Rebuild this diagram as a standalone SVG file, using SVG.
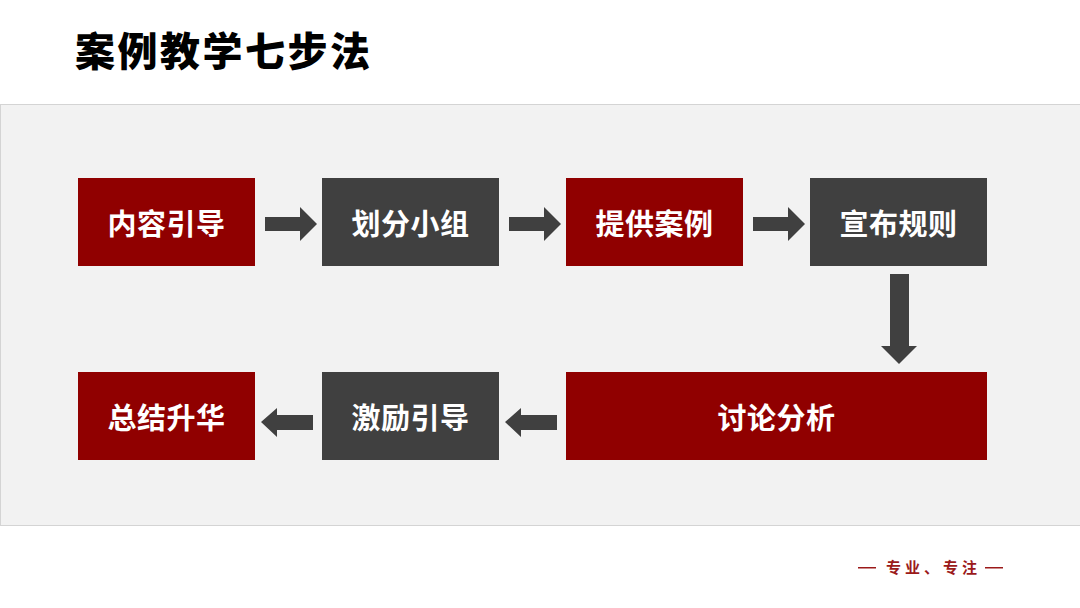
<svg xmlns="http://www.w3.org/2000/svg" width="1080" height="608" viewBox="0 0 1080 608">
<style>
.red{fill:#900000;}
.gray{fill:#404040;}
.lbl{font-family:"Noto Sans CJK SC","Noto Sans",sans-serif;font-weight:700;font-size:29px;fill:#ffffff;text-anchor:middle;dominant-baseline:central;letter-spacing:0.5px;}
.arr{fill:#404040;}
</style>
<rect width="1080" height="608" fill="#ffffff"/>
<text x="75" y="66" font-family="'Noto Sans CJK SC','Noto Sans',sans-serif" font-weight="900" font-size="40" letter-spacing="2.5" fill="#000000">案例教学七步法</text>
<rect x="0.5" y="104.5" width="1080" height="421" fill="#f2f2f2" stroke="#d4d4d4" stroke-width="1"/>
<g id="n1"><rect class="red" x="78" y="178" width="177" height="88"/><text class="lbl" x="166.5" y="222">内容引导</text></g>
<g id="n2"><rect class="gray" x="322" y="178" width="177" height="88"/><text class="lbl" x="410.5" y="222">划分小组</text></g>
<g id="n3"><rect class="red" x="566" y="178" width="177" height="88"/><text class="lbl" x="654.5" y="222">提供案例</text></g>
<g id="n4"><rect class="gray" x="810" y="178" width="177" height="88"/><text class="lbl" x="898.5" y="222">宣布规则</text></g>
<g id="n5"><rect class="red" x="566" y="372" width="421" height="88"/><text class="lbl" x="776.5" y="416">讨论分析</text></g>
<g id="n6"><rect class="gray" x="322" y="372" width="177" height="88"/><text class="lbl" x="410.5" y="416">激励引导</text></g>
<g id="n7"><rect class="red" x="78" y="372" width="177" height="88"/><text class="lbl" x="166.5" y="416">总结升华</text></g>
<g id="connectors">
<polygon class="arr" points="265,217 300,217 300,207 317,224 300,241 300,231 265,231"/>
<polygon class="arr" points="509,217 544,217 544,207 561,224 544,241 544,231 509,231"/>
<polygon class="arr" points="753,217 788,217 788,207 805,224 788,241 788,231 753,231"/>
<polygon class="arr" points="890,274 909,274 909,346 917,346 899,364 881,346 890,346"/>
<polygon class="arr" points="557,415 521,415 521,408 505,422 521,437 521,430 557,430"/>
<polygon class="arr" points="313,415 277,415 277,408 261,422 277,437 277,430 313,430"/>
</g>
<g id="footer" fill="#9b1a1a" font-family="'Noto Sans CJK SC',sans-serif" font-size="15" font-weight="700">
<rect x="858" y="567" width="18" height="1.5"/>
<text x="886" y="573" letter-spacing="4">专业、专注</text>
<rect x="985" y="567" width="18" height="1.5"/>
</g>
</svg>
